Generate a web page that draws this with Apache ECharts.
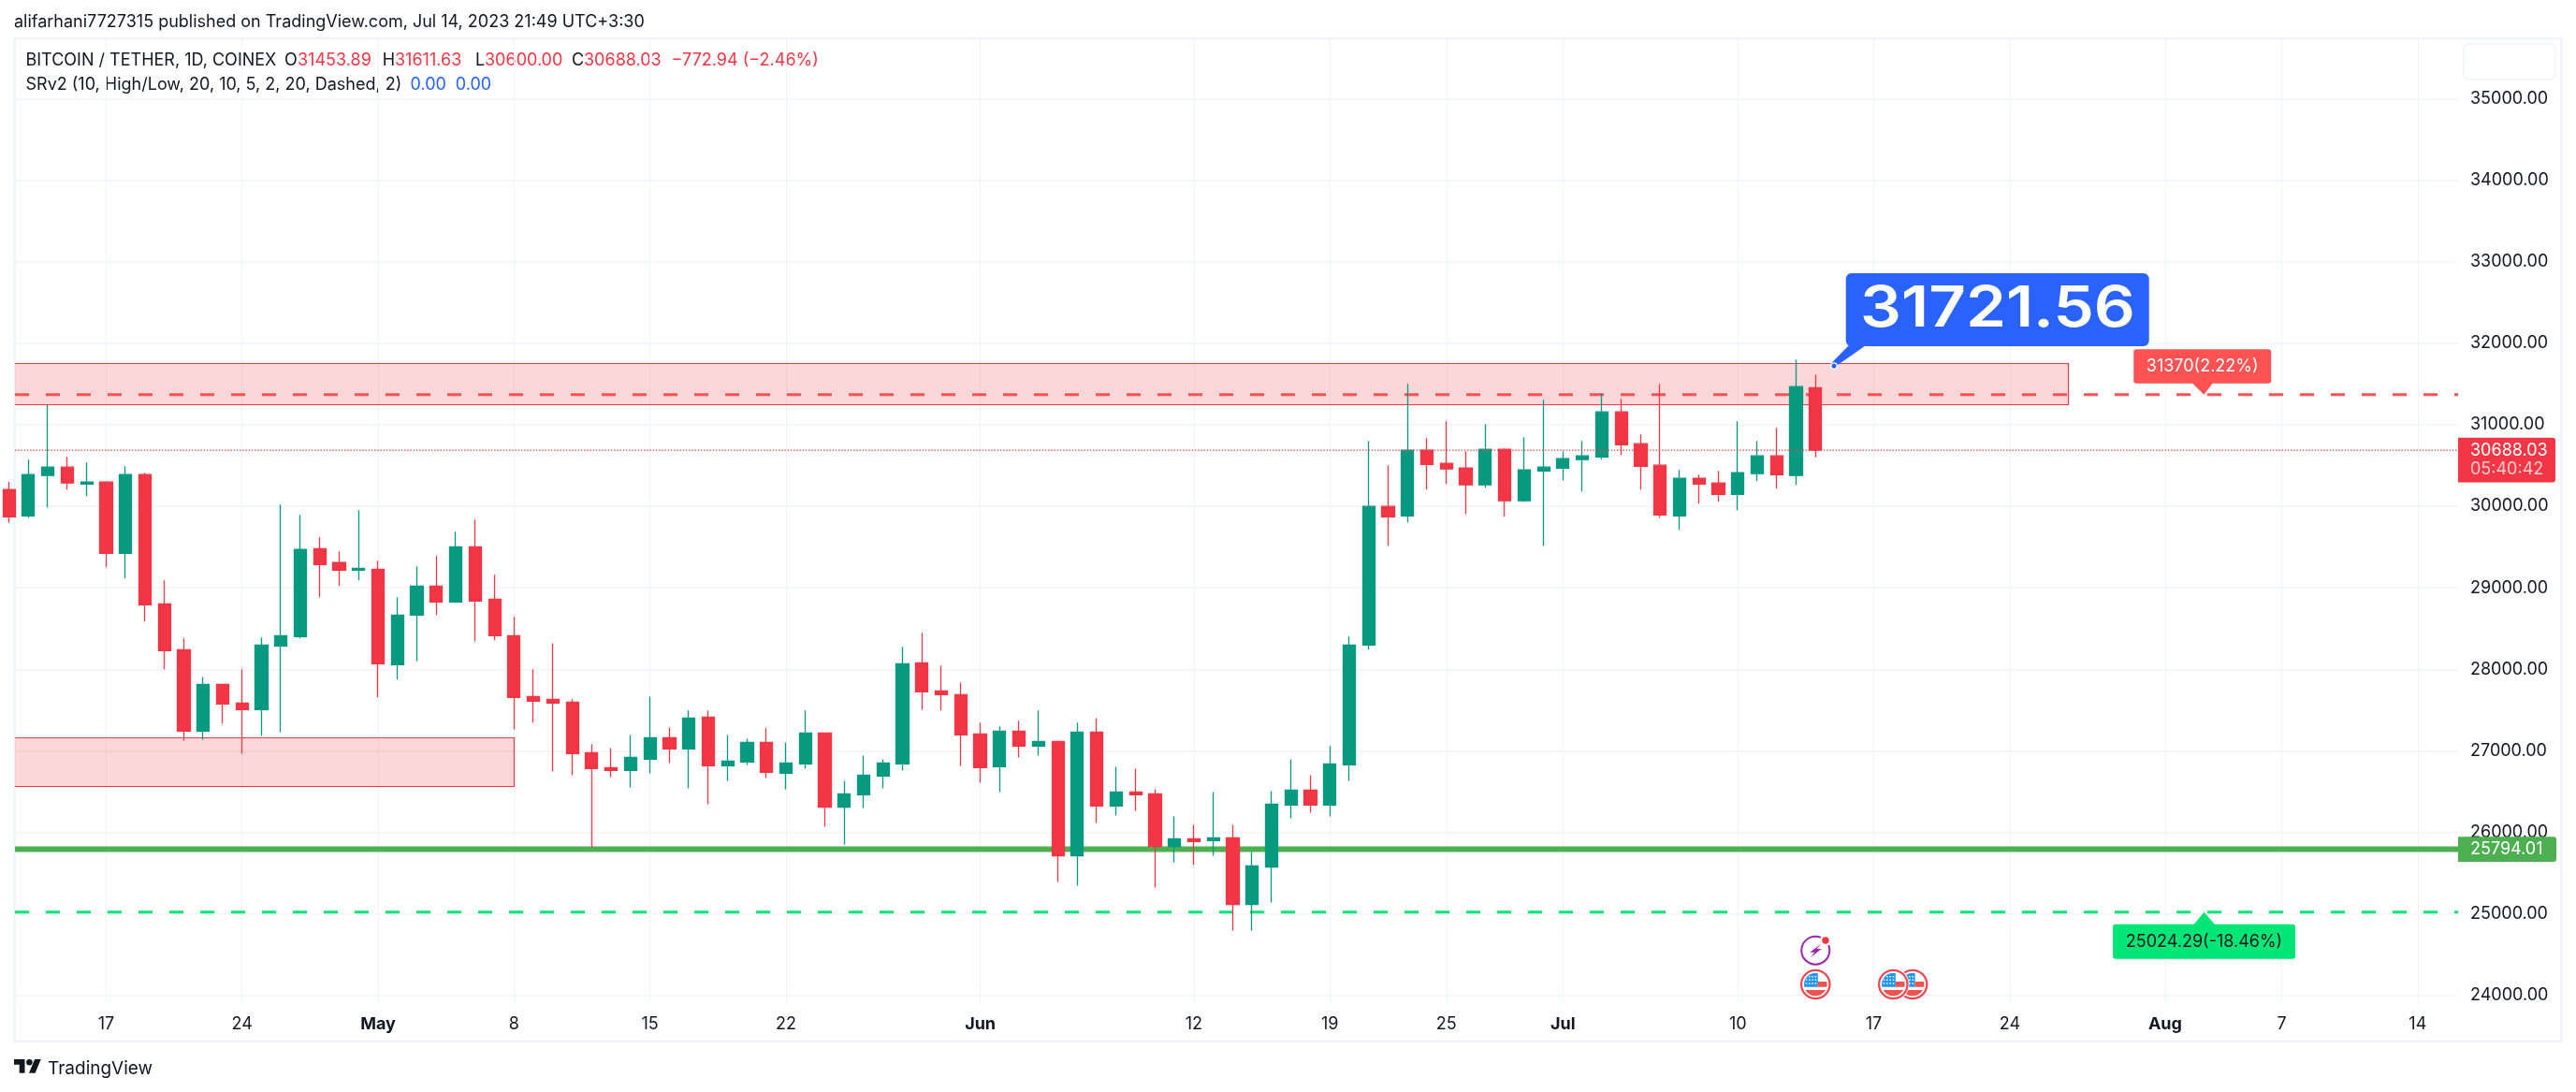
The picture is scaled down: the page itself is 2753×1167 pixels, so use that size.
<!DOCTYPE html>
<html><head><meta charset="utf-8">
<style>html,body{margin:0;padding:0;background:#fff}#c{width:2753px;height:1167px}</style>
<script src="https://cdn.jsdelivr.net/npm/echarts@6/dist/echarts.min.js"></script>
</head><body><div id="c"></div>
<script>
const dates=['04-12','04-13','04-14','04-15','04-16','04-17','04-18','04-19','04-20','04-21','04-22','04-23','04-24','04-25','04-26','04-27','04-28','04-29','04-30',
'05-01','05-02','05-03','05-04','05-05','05-06','05-07','05-08','05-09','05-10','05-11','05-12','05-13','05-14','05-15','05-16','05-17','05-18','05-19','05-20','05-21','05-22','05-23','05-24','05-25','05-26','05-27','05-28','05-29','05-30','05-31',
'06-01','06-02','06-03','06-04','06-05','06-06','06-07','06-08','06-09','06-10','06-11','06-12','06-13','06-14','06-15','06-16','06-17','06-18','06-19','06-20','06-21','06-22','06-23','06-24','06-25','06-26','06-27','06-28','06-29','06-30',
'07-01','07-02','07-03','07-04','07-05','07-06','07-07','07-08','07-09','07-10','07-11','07-12','07-13','07-14'];
const opens=[30204,29883,30377,30480,30273,30296,29424,30388,28804,28241,27242,27816,27587,27506,28287,28402,29481,29309,29217,
29228,28058,28666,29022,28827,29504,28861,28413,27667,27633,27598,26978,26795,26760,26898,27162,27024,27414,26818,26863,27104,26726,26840,27219,26312,26462,26691,26840,28080,27736,27690,
27208,26806,27242,27059,27116,25715,27231,26324,26496,26473,25830,25922,25899,25934,25118,25577,26335,26519,26335,26829,28299,29998,29883,30687,30526,30468,30262,30698,30067,30434,
30468,30572,30606,31157,30767,30503,29883,30342,30285,30147,30400,30618,30377,31453.89];
const closes=[29871,30388,30480,30285,30296,29424,30388,28792,28230,27242,27816,27575,27506,28298,28413,29470,29286,29217,29240,
28069,28666,29022,28827,29504,28838,28413,27656,27610,27587,26967,26783,26760,26921,27162,27024,27403,26818,26875,27104,26737,26852,27219,26312,26473,26703,26852,28069,27724,27690,27196,
26795,27242,27059,27116,25715,27231,26324,26496,26462,25830,25922,25888,25934,25118,25589,26347,26519,26335,26840,28299,29998,29871,30687,30514,30457,30262,30698,30067,30445,30480,
30583,30618,31157,30755,30491,29894,30342,30273,30147,30411,30618,30388,31467,30688.03];
const lows=[29800,29860,29986,30204,30124,29251,29114,28586,28000,27127,27139,27334,26967,27185,27231,28379,28884,29022,29091,
27656,27874,28103,28666,28815,28344,28356,27265,27346,26749,26703,25810,26680,26553,26726,26852,26542,26347,26634,26829,26668,26530,26783,26071,25853,26301,26542,26760,27506,27495,26818,
26611,26496,26921,26944,25394,25348,26117,26209,26266,25325,25635,25600,25715,24797,24797,25141,26175,26244,26198,26634,28241,29516,29803,30204,30273,29906,30227,29871,30055,29516,
30319,30181,30572,30629,30204,29860,29711,30032,30055,29952,30308,30216,30262,30600];
const highs=[30300,30572,31245,30606,30537,30308,30491,30411,29091,28379,27908,27816,28000,28390,30021,29894,29619,29447,29952,
29332,28884,29263,29389,29688,29837,29160,28643,28000,28321,27633,27082,27036,27196,27667,27288,27495,27495,27196,27150,27277,27104,27495,27219,26634,26944,26898,28276,28448,28046,27839,
27346,27300,27369,27495,27127,27346,27403,26806,26783,26530,26198,26094,26496,26094,25761,26507,26898,26703,27059,28402,30801,30503,31502,30836,31042,30675,31008,30710,30847,31307,
30675,30801,31387,31318,30882,31502,30445,30388,30434,31042,30801,30962,31800,31611.63];
const priceTicks=[24000,25000,26000,27000,28000,29000,30000,31000,32000,33000,34000,35000];
const tickDates=['04-17','04-24','05-01','05-08','05-15','05-22','06-01','06-12','06-19','06-25','07-01','07-10','07-17','07-24','08-01','08-07','08-14'];
const tickLabels=['17','24','May','8','15','22','Jun','12','19','25','Jul','10','17','24','Aug','7','14'];
const zoneEnds=['07-27','05-08'], zoneTops=[31751,27170], zoneBottoms=[31246,26568];
const target1=31370, target1Label='31370(2.22%)', target1Date='08-03';
const target2=25024.29, target2Label='25024.29(-18.46%)', target2Date='08-03';
const supportLine=25794.01, lastPrice=30688.03, countdown='05:40:42';
const calloutValue=31721.56, calloutDate='07-15';
const flagDates=['07-19','07-18','07-14'], flashDates=['07-14'];

const dayOf=s=>{const [m,d]=s.split('-').map(Number);return Math.round((Date.UTC(2023,m-1,d)-Date.UTC(2023,3,17))/864e5)};
const xMin=-4.692,xMax=121.08,yMin=23908,yMax=35726;
const FONT='Inter, "Noto Sans", sans-serif';
const INK='#131722',RED='#f23645',GREEN='#089981',SOFT='#ff5252',MINT='#00e676',LEAF='#4caf50',BLUE='#2962ff',EDGE='#f0f3fa';
const tickLabelOf={};tickDates.forEach((d,i)=>tickLabelOf[dayOf(d)]=tickLabels[i]);
const candle=dates.map((d,i)=>[dayOf(d),opens[i],closes[i],lows[i],highs[i]]);
const span=(p)=>[[xMin,p],[xMax,p]];
const hline=(name,p,color,width,z,dash)=>({type:'line',name,data:span(p),z,showSymbol:false,silent:true,
  lineStyle:{color,width,type:dash||'solid',dashOffset:0},clip:true});
const overlay=(name,data,renderItem,z)=>({type:'custom',name,data,renderItem,z:z||10,silent:true,clip:false,
  encode:{x:0,y:1}});
const txt=(x,y,text,fill,size,weight,align)=>({type:'text',silent:true,style:{x,y,text,fill,font:(weight||400)+' '+size+'px '+FONT,align:align||'center',verticalAlign:'middle'}});

const zoneItem=(p,api)=>{
  const end=api.coord([api.value(0),api.value(1)]),low=api.coord([api.value(0),api.value(2)]);
  const left=api.coord([xMin-2,api.value(1)])[0];
  const top=Math.round(end[1])+0.5,bot=Math.round(low[1])+0.5,right=Math.round(end[0])+0.5;
  return {type:'rect',shape:{x:left,y:top,width:right-left,height:bot-top},
    style:{fill:'rgba(242,54,69,0.2)',stroke:RED,lineWidth:1.2}}};
const flagItem=(p,api)=>{const c=api.coord([api.value(0),yMin]);const cx=c[0],cy=c[1]-20;
  const stars=[];
  for(let r=0;r<3;r++)for(let k=0;k<4;k++)stars.push({type:'rect',shape:{x:cx-10.5+k*3.3,y:cy-9+r*3.6,width:1.5,height:1.5},style:{fill:'#fff'}});
  return {type:'group',children:[
    {type:'circle',shape:{cx,cy,r:17.2},style:{fill:'#fff'}},
    {type:'circle',shape:{cx,cy,r:15.2},style:{fill:'#fff',stroke:'#f0444f',lineWidth:2.2}},
    {type:'group',clipPath:{type:'circle',shape:{cx,cy,r:12.3}},children:[
      {type:'rect',shape:{x:cx-13,y:cy-13,width:15.5,height:15.7},style:{fill:'#2196f3'}},
      {type:'rect',shape:{x:cx+2.5,y:cy-3,width:11,height:5.7},style:{fill:'#ef5350'}},
      {type:'rect',shape:{x:cx-13,y:cy+6,width:26,height:7},style:{fill:'#ef5350'}}
    ].concat(stars)}
  ]}};
const flashItem=(p,api)=>{const c=api.coord([api.value(0),yMin]);const cx=c[0],cy=c[1]-56.3;
  return {type:'group',children:[
    {type:'circle',shape:{cx,cy,r:15},style:{fill:'#fff',stroke:'#9c27b0',lineWidth:2}},
    {type:'polygon',shape:{points:[[cx+6.3,cy-7.3],[cx-6,cy+2],[cx-1,cy+2],[cx-5.3,cy+7.7],[cx+6.3,cy-1.7],[cx+1.3,cy-1.7]]},style:{fill:'#9c27b0'}},
    {type:'circle',shape:{cx:cx+10.7,cy:cy-10.7,r:6},style:{fill:'#fff'}},
    {type:'circle',shape:{cx:cx+10.7,cy:cy-10.7,r:3.7},style:{fill:RED}}
  ]}};
const calloutItem=(p,api)=>{const [x,y]=api.coord([api.value(0),api.value(1)]);
  return {type:'group',children:[
    {type:'polygon',shape:{points:[[x-4.3,y-2.4],[x+15.7,y-22.7],[x+31.3,y-20.7],[x+2.3,y-0.5]]},style:{fill:BLUE}},
    {type:'rect',shape:{x:x+11.7,y:y-99,width:324,height:78,r:6},style:{fill:BLUE}},
    {type:'text',silent:true,x:x+174,y:y-60.3,scaleX:1.15,originX:0,originY:0,
      style:{x:0,y:0,text:String(calloutValue),fill:'#fff',font:'600 60px '+FONT,align:'center',verticalAlign:'middle'}},
    {type:'circle',shape:{cx:x-1,cy:y,r:3.2},style:{fill:BLUE,stroke:'#fff',lineWidth:1.3}}
  ]}};
const upTarget=(p,api)=>{const [x,y]=api.coord([api.value(0),api.value(1)]);
  return {type:'group',children:[
    {type:'polygon',shape:{points:[[x-13.3,y-13],[x+9.8,y-13],[x,y]]},style:{fill:SOFT}},
    {type:'rect',shape:{x:x-75.2,y:y-48.4,width:146.9,height:36.4,r:3},style:{fill:SOFT}},
    txt(x-1.8,y-29.8,target1Label,'#fff',18)
  ]}};
const downTarget=(p,api)=>{const [x,y]=api.coord([api.value(0),api.value(1)]);
  return {type:'group',children:[
    {type:'polygon',shape:{points:[[x-11.5,y+14],[x+12.2,y+14],[x,y]]},style:{fill:MINT}},
    {type:'rect',shape:{x:x-97.4,y:y+13,width:195,height:37,r:3},style:{fill:MINT}},
    txt(x,y+32,target2Label,INK,18)
  ]}};
const lastTag=(p,api)=>{const [x,y]=api.coord([xMax,api.value(1)]);
  return {type:'group',children:[
    {type:'rect',shape:{x,y:y-13.3,width:104,height:47.7,r:[0,3,3,0]},style:{fill:RED}},
    txt(x+13,y+0.5,String(lastPrice),'#fff',18,400,'left'),
    txt(x+13,y+21,countdown,'#fcc',18,400,'left')
  ]}};
const supportTag=(p,api)=>{const [x,y]=api.coord([xMax,api.value(1)]);
  return {type:'group',children:[
    {type:'rect',shape:{x,y:y-13.3,width:105,height:26.7,r:[0,3,3,0]},style:{fill:LEAF}},
    txt(x+13,y,String(supportLine),'#fff',18,400,'left')
  ]}};

const T=(x,y,text,fill,size,weight)=>({type:'text',silent:true,x,y,style:{text,fill:fill||INK,font:(weight||400)+' '+(size||18)+'px '+FONT,verticalAlign:'middle',align:'left'}});
const graphics=[
 {type:'rect',silent:true,z:-1,shape:{x:15.5,y:41,width:2722,height:1072},style:{fill:'none',stroke:EDGE,lineWidth:2.5}},
 {type:'rect',silent:true,shape:{x:2633,y:47,width:98,height:38,r:6},style:{fill:'none',stroke:EDGE,lineWidth:1.5}},
 T(15,24,'alifarhani7727315 published on TradingView.com, Jul 14, 2023 21:49 UTC+3:30',INK,18),
 T(27.5,64.5,'BITCOIN / TETHER, 1D, COINEX',INK,18),
 T(304,64.5,'O',INK,18),T(318,64.5,'31453.89',RED,18),
 T(408.7,64.5,'H',INK,18),T(422,64.5,'31611.63',RED,18),
 T(508,64.5,'L',INK,18),T(518,64.5,'30600.00',RED,18),
 T(611,64.5,'C',INK,18),T(624,64.5,'30688.03',RED,18),
 T(717.6,64.5,'\u2212772.94 (\u22122.46%)',RED,18),
 T(27.5,90.5,'SRv2 (10, High/Low, 20, 10, 5, 2, 20, Dashed, 2)',INK,18),
 T(438.6,90.5,'0.00',BLUE,18),T(486.8,90.5,'0.00',BLUE,18),
 {type:'polygon',silent:true,shape:{points:[[15,1132],[26.5,1132],[26.5,1146.8],[20.7,1146.8],[20.7,1137.8],[15,1137.8]]},style:{fill:INK}},
 {type:'polygon',silent:true,shape:{points:[[37.1,1132],[43.7,1132],[37.6,1146.8],[31,1146.8]]},style:{fill:INK}},
 {type:'circle',silent:true,shape:{cx:31.4,cy:1135.3,r:3.3},style:{fill:INK}},
 T(51,1142.5,'TradingView',INK,19)
];

const chart=echarts.init(document.getElementById('c'),null,{renderer:'canvas',width:2753,height:1167});
chart.setOption({
 animation:false,backgroundColor:'#fff',
 grid:{left:16,right:126,top:42,bottom:95,containLabel:false},
 graphic:graphics,
 tooltip:{show:false},
 xAxis:{type:'value',min:xMin,max:xMax,axisLine:{show:false},axisTick:{show:false,customValues:tickDates.map(dayOf)},
   splitLine:{show:true,lineStyle:{color:'#f0f3fa',width:1}},
   axisLabel:{customValues:tickDates.map(dayOf),margin:14,color:INK,fontFamily:FONT,fontSize:18,hideOverlap:false,
     formatter:v=>{const s=tickLabelOf[Math.round(v)]||'';return /[A-Za-z]/.test(s)?'{m|'+s+'}':s},
     rich:{m:{fontWeight:700,fontSize:18,fontFamily:FONT,color:INK}}}},
 yAxis:{type:'value',position:'right',min:yMin,max:yMax,axisLine:{show:false},axisTick:{show:false,customValues:priceTicks},
   splitLine:{show:true,lineStyle:{color:'#f0f3fa',width:1.5}},
   axisLabel:{customValues:priceTicks,margin:13,color:INK,fontFamily:FONT,fontSize:18,formatter:v=>v.toFixed(2)}},
 series:[
  {type:'custom',name:'Zones',data:zoneEnds.map((d,i)=>[dayOf(d),zoneTops[i],zoneBottoms[i]]),renderItem:zoneItem,z:1,clip:true,silent:true,encode:{x:0,y:[1,2]}},
  hline('Support',supportLine,LEAF,6,2),
  hline('Target up',target1,SOFT,3,2,[15,18]),
  hline('Target down',target2,MINT,3,2,[15,18]),
  {type:'candlestick',name:'BTCUSDT',data:candle,encode:{x:0,y:[1,2,3,4]},barWidth:13.7,z:4,clip:true,silent:true,
   itemStyle:{color:GREEN,color0:RED,borderColor:GREEN,borderColor0:RED,borderWidth:1.3}},
  hline('Last',lastPrice,RED,1.4,5,[1.4,1.8]),
  overlay('Callout',[[dayOf(calloutDate),calloutValue]],calloutItem),
  overlay('Target 1',[[dayOf(target1Date),target1]],upTarget),
  overlay('Target 2',[[dayOf(target2Date),target2]],downTarget),
  overlay('Last tag',[[xMax,lastPrice]],lastTag),
  overlay('Support tag',[[xMax,supportLine]],supportTag),
  overlay('Flags',flagDates.map(d=>[dayOf(d),yMin]),flagItem),
  overlay('Flash',flashDates.map(d=>[dayOf(d),yMin]),flashItem)
 ]
});
</script></body></html>
